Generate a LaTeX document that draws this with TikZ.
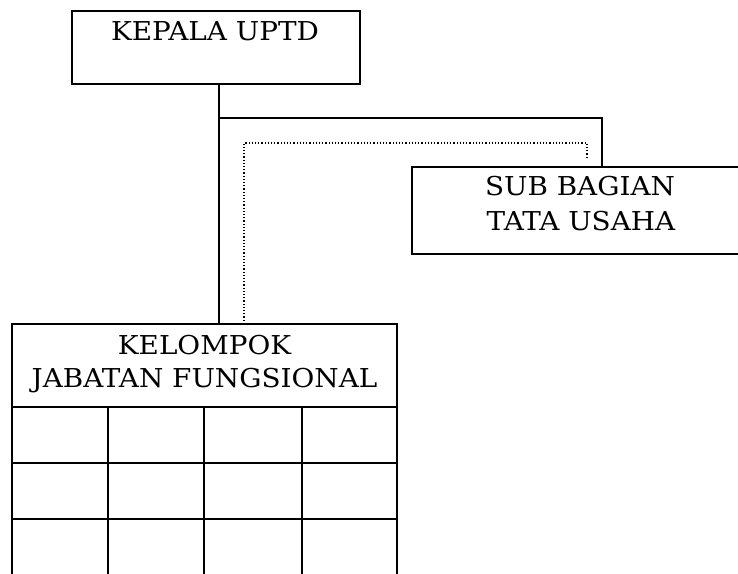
\documentclass[tikz,border=0pt]{standalone}
\usepackage{fontspec}
\setmainfont{DejaVu Serif}[FakeStretch=1.07]
\begin{document}
\begin{tikzpicture}[x=1pt,y=-1pt,
  box/.style={draw,line width=1.5pt,rectangle,inner sep=0pt,outer sep=0pt},
  lbl/.style={anchor=base,inner sep=0pt,font=\fontsize{26}{32}\selectfont},
  conn/.style={line width=1.5pt},
  dotconn/.style={line width=1.2pt,dotted},
  gridv/.style={line width=2.6pt},
  gridh/.style={line width=1.9pt}]
\useasboundingbox (0,0) rectangle (738,573);
\begin{scope}
\clip (0,0) rectangle (738,573);
% boxes
\node[box,minimum width=288pt,minimum height=73pt] (kepala) at (216,47.5) {};
\node[lbl] (kepalat) at (215,40) {KEPALA UPTD};
\node[box,minimum width=350pt,minimum height=87pt] (sub) at (587,210.5) {};
\node[lbl] (subt1) at (580,195) {SUB BAGIAN};
\node[lbl] (subt2) at (581,230) {TATA USAHA};
\node[box,minimum width=385pt,minimum height=83pt] (kel) at (204.5,365.5) {};
\node[lbl] (kelt1) at (204.5,354) {KELOMPOK};
\node[lbl] (kelt2) at (204.5,387) {JABATAN FUNGSIONAL};
% grid
\coordinate (gb) at (0,580);
\draw[gridh] (kel.south west) -- (kel.south west |- gb);
\draw[gridh] (kel.south east) -- (kel.south east |- gb);
\draw[gridv] (108,407) -- (108,580);
\draw[gridv] (204,407) -- (204,580);
\draw[gridv] (302,407) -- (302,580);
\draw[gridh] (12,463) -- (397,463);
\draw[gridh] (12,519) -- (397,519);
% connectors
\coordinate (k1) at (219,84);
\coordinate (j1) at (219,118);
\draw[conn] (k1) -- (k1 |- kel.north);
\draw[conn] (j1) -| (602,167);
\coordinate (d1) at (244,324);
\draw[dotconn] (d1) |- (587,143) -- (587,157);
\end{scope}
\end{tikzpicture}
\end{document}
